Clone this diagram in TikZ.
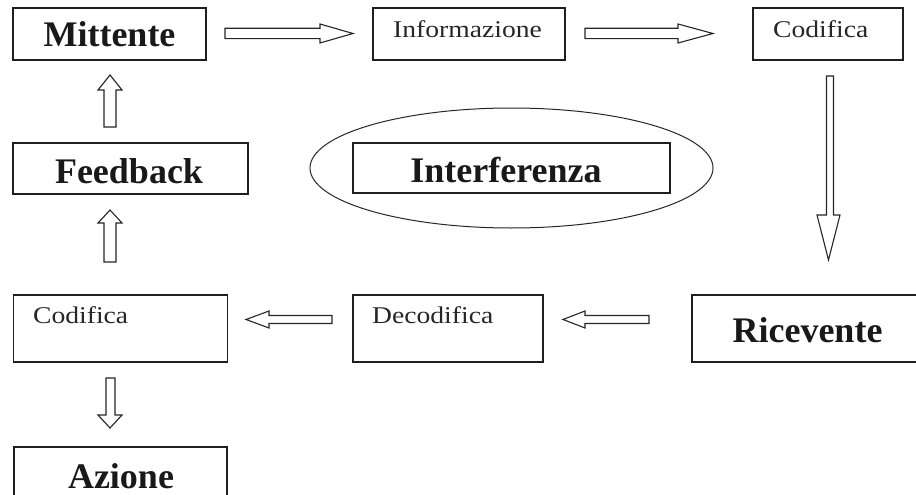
\documentclass[tikz,border=0pt]{standalone}
\usepackage{fontspec}
\setmainfont{Liberation Serif}
\usetikzlibrary{shapes.geometric}
\begin{document}
\begin{tikzpicture}[x=1pt,y=-1pt,
  box/.style={draw=black!88, line width=1.6pt, inner sep=0pt, fill=none},
  bigtxt/.style={font=\fontsize{36}{36}\selectfont\bfseries, text=black!90, inner sep=0pt},
  smalltxt/.style={font=\fontsize{24}{24}\selectfont, text=black!85, inner sep=0pt},
  blockarrow/.style={draw=black!85, line width=1.1pt, fill=white, line join=miter}]
\useasboundingbox (0,0) rectangle (916,495);
\clip (0,0) rectangle (916,495);

% boxes
\node[box, minimum width=193pt, minimum height=52pt] (mitt) at (109.5,34) {};
\node[box, minimum width=192pt, minimum height=52pt] (info) at (469,34) {};
\node[box, minimum width=150pt, minimum height=52pt] (cod1) at (828,34) {};
\node[box, minimum width=235pt, minimum height=51pt] (feed) at (130.5,168.5) {};
\node[box, minimum width=317pt, minimum height=50pt] (interf) at (511.5,168) {};
\node[draw=black!85, line width=1pt, ellipse, minimum width=403pt, minimum height=120pt, inner sep=0pt] (ell) at (511.5,168) {};
\node[box, minimum width=214pt, minimum height=67pt] (cod2) at (120.5,328.5) {};
\node[box, minimum width=190pt, minimum height=67pt] (decod) at (448,328.5) {};
\node[box, minimum width=250pt, minimum height=67pt, anchor=west] (ricev) at (691,328.5) {};
\node[box, minimum width=213pt, minimum height=80pt, anchor=north] (azione) at (120.5,446) {};

% texts
\node[bigtxt, anchor=base] (tmitt) at (109.5,47) {Mittente};
\node[smalltxt, anchor=base west] (tinfo) at (393,38) {\scalebox{1.15}[1]{Informazione}};
\node[smalltxt, anchor=base west] (tcod1) at (773,38) {\scalebox{1.15}[1]{Codifica}};
\node[bigtxt, anchor=base] (tfeed) at (129,183) {Feedback};
\node[bigtxt, anchor=base] (tinterf) at (506,182) {Interferenza};
\node[smalltxt, anchor=base west] (tcod2) at (33,323) {\scalebox{1.15}[1]{Codifica}};
\node[smalltxt, anchor=base west] (tdecod) at (372,323) {\scalebox{1.15}[1]{Decodifica}};
\node[bigtxt, anchor=base] (tricev) at (807.5,342) {Ricevente};
\node[bigtxt, anchor=base] (tazione) at (121,488) {Azione};

% block arrows
\draw[blockarrow] (225,28.3) -- (320,28.3) -- (320,24) -- (353,33.5) -- (320,43) -- (320,38.7) -- (225,38.7) -- cycle;
\draw[blockarrow] (585,28.3) -- (678,28.3) -- (678,24) -- (713,33.5) -- (678,43) -- (678,38.7) -- (585,38.7) -- cycle;
\draw[blockarrow] (826.5,76) -- (833.5,76) -- (833.5,215) -- (840,215) -- (828.5,260) -- (817,215) -- (826.5,215) -- cycle;
\draw[blockarrow] (104,127) -- (104,90) -- (98,90) -- (110,75) -- (122,90) -- (116,90) -- (116,127) -- cycle;
\draw[blockarrow] (104,262) -- (104,223) -- (98,223) -- (110,210) -- (122,223) -- (116,223) -- (116,262) -- cycle;
\draw[blockarrow] (106,378) -- (115,378) -- (115,415) -- (122,415) -- (110,428) -- (98,415) -- (106,415) -- cycle;
\draw[blockarrow] (332,315.5) -- (269,315.5) -- (269,311) -- (246,319.5) -- (269,328) -- (269,323.5) -- (332,323.5) -- cycle;
\draw[blockarrow] (649,315.5) -- (585,315.5) -- (585,311) -- (563,319.5) -- (585,328) -- (585,323.5) -- (649,323.5) -- cycle;
\end{tikzpicture}
\end{document}
